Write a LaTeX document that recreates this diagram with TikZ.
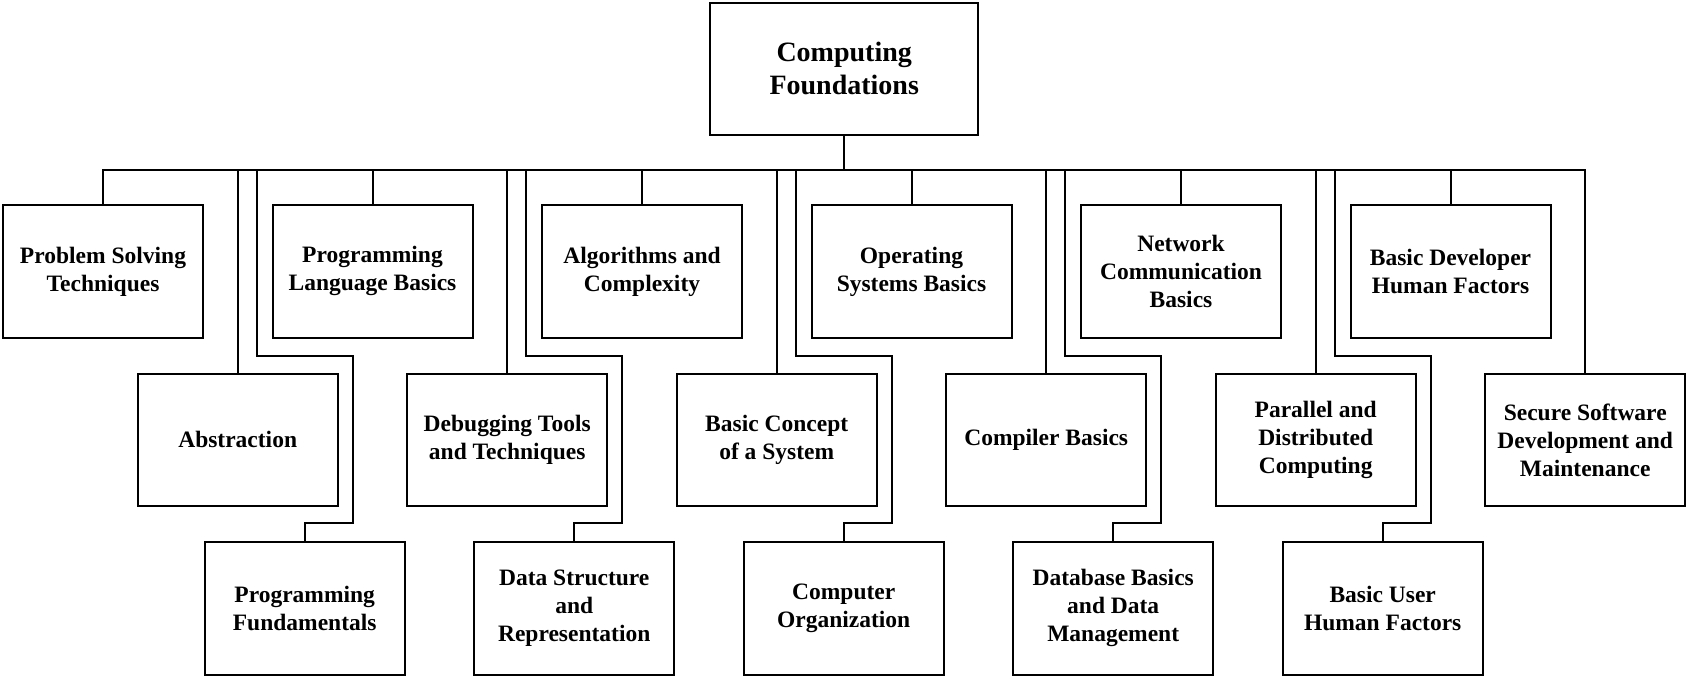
\documentclass[tikz,border=0pt]{standalone}
\usepackage{fontspec}
\setmainfont{Liberation Serif}
\usetikzlibrary{positioning}
\tikzset{
    x=1pt, y=1pt, % one unit is one point of the page
    topicbox/.style={draw, rectangle, align=center, outer sep=0pt, minimum width=200pt, minimum height=132.7pt, font=\bfseries\fontsize{23.5}{28}\selectfont}, % every area box
    headbox/.style={topicbox, minimum width=267.7pt, font=\bfseries\fontsize{28}{33}\selectfont}, % the top box
}

\begin{document}
\begin{tikzpicture}[line width=2pt]
        \useasboundingbox (0,0) rectangle (1688,-677);
        \coordinate (bus) at (0,-170.3);
        \coordinate (step1) at (0,-355.5);
        \coordinate (step2) at (0,-523);

        \node[headbox] (root) at (844.2,-68.9) {Computing\\Foundations};

        % first row
        \node[topicbox] (ps) at (103,-271.4) {Problem Solving\\Techniques};
        \node[topicbox, right=69.5pt of ps] (plb) {Programming\\Language Basics};
        \node[topicbox, right=69.5pt of plb] (ac) {Algorithms and\\Complexity};
        \node[topicbox, right=69.5pt of ac] (osb) {Operating\\Systems Basics};
        \node[topicbox, right=69.5pt of osb] (ncb) {Network\\Communication\\Basics};
        \node[topicbox, right=69.5pt of ncb] (bdhf) {Basic Developer\\Human Factors};

        % second row
        \node[topicbox] (abs) at (237.7,-439.9) {Abstraction};
        \node[topicbox, right=69.5pt of abs] (dtt) {Debugging Tools\\and Techniques};
        \node[topicbox, right=69.5pt of dtt] (bcs) {Basic Concept\\of a System};
        \node[topicbox, right=69.5pt of bcs] (cb) {Compiler Basics};
        \node[topicbox, right=69.5pt of cb] (pdc) {Parallel and\\Distributed\\Computing};
        \node[topicbox, right=69.5pt of pdc] (ssdm) {Secure Software\\Development and\\Maintenance};

        % third row
        \node[topicbox] (pf) at (304.7,-608.4) {Programming\\Fundamentals};
        \node[topicbox, right=69.5pt of pf] (dsr) {Data Structure\\and\\Representation};
        \node[topicbox, right=69.5pt of dsr] (co) {Computer\\Organization};
        \node[topicbox, right=69.5pt of co] (dbdm) {Database Basics\\and Data\\Management};
        \node[topicbox, right=69.5pt of dbdm] (buhf) {Basic User\\Human Factors};

        \draw (root) -- (root |- bus) -| (ps);
        \draw (root) -- (root |- bus) -| (plb);
        \draw (root) -- (root |- bus) -| (ac);
        \draw (root) -- (root |- bus) -| (osb);
        \draw (root) -- (root |- bus) -| (ncb);
        \draw (root) -- (root |- bus) -| (bdhf);

        \draw (root) -- (root |- bus) -| (abs);
        \draw (root) -- (root |- bus) -| (dtt);
        \draw (root) -- (root |- bus) -| (bcs);
        \draw (root) -- (root |- bus) -| (cb);
        \draw (root) -- (root |- bus) -| (pdc);
        \draw (root) -- (root |- bus) -| (ssdm);

        \draw (root) -- (root |- bus) -| ([xshift=19pt]abs.north |- step1) -| ([xshift=15pt]abs.east |- step2) -| (pf);
        \draw (root) -- (root |- bus) -| ([xshift=19pt]dtt.north |- step1) -| ([xshift=15pt]dtt.east |- step2) -| (dsr);
        \draw (root) -- (root |- bus) -| ([xshift=19pt]bcs.north |- step1) -| ([xshift=15pt]bcs.east |- step2) -| (co);
        \draw (root) -- (root |- bus) -| ([xshift=19pt]cb.north |- step1) -| ([xshift=15pt]cb.east |- step2) -| (dbdm);
        \draw (root) -- (root |- bus) -| ([xshift=19pt]pdc.north |- step1) -| ([xshift=15pt]pdc.east |- step2) -| (buhf);

    \end{tikzpicture}
\end{document}
